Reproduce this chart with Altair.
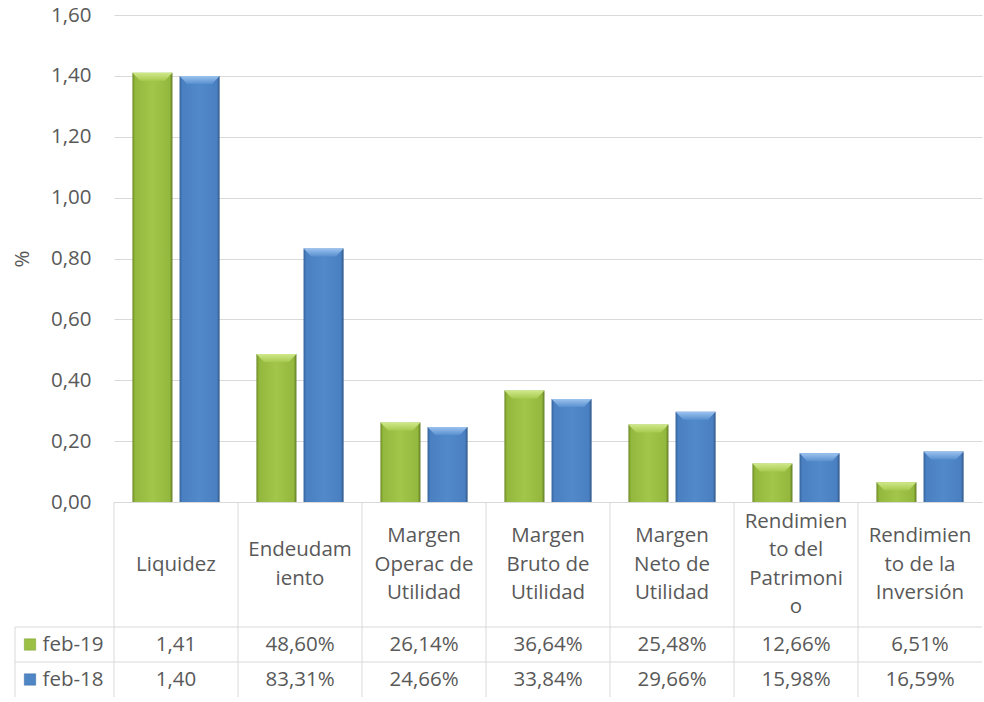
import altair as alt
import pandas as pd

# ---- data -------------------------------------------------------------
categories = [
    "Liquidez",
    "Endeudamiento",
    "Margen Operac de Utilidad",
    "Margen Bruto de Utilidad",
    "Margen Neto de Utilidad",
    "Rendimiento del Patrimonio",
    "Rendimiento de la Inversión",
]
# header text as wrapped inside the table cells
header_labels = [
    "Liquidez",
    "Endeudam\niento",
    "Margen\nOperac de\nUtilidad",
    "Margen\nBruto de\nUtilidad",
    "Margen\nNeto de\nUtilidad",
    "Rendimien\nto del\nPatrimoni\no",
    "Rendimien\nto de la\nInversión",
]
series = ["feb-19", "feb-18"]
feb19 = [1.41, 0.4860, 0.2614, 0.3664, 0.2548, 0.1266, 0.0651]
feb18 = [1.40, 0.8331, 0.2466, 0.3384, 0.2966, 0.1598, 0.1659]


def fmt(i, v):
    # first indicator is a plain ratio, the rest are percentages
    s = f"{v:.2f}" if i == 0 else f"{v * 100:.2f}%"
    return s.replace(".", ",")


rows = []
for name, vals in zip(series, [feb19, feb18]):
    for i, (c, v) in enumerate(zip(categories, vals)):
        rows.append({"category": c, "series": name, "value": v, "label": fmt(i, v)})
df = pd.DataFrame(rows)
header_df = pd.DataFrame({
    "category": categories,
    "label": header_labels,
    "nlines": [s.count("\n") + 1 for s in header_labels],
    "row": "h",
})
cat_df = pd.DataFrame({"category": categories})

# ---- style --------------------------------------------------------------
FONT = "Open Sans"
FS = 20.5
LH = 28.5
TXT = "#595959"
GRID = "#d9d9d9"
W = 868
BAR_W = 40

green_body = alt.Gradient(
    gradient="linear", x1=0, x2=1, y1=0, y2=0,
    stops=[
        alt.GradientStop(color="#6f8d2b", offset=0),
        alt.GradientStop(color="#93b83d", offset=0.07),
        alt.GradientStop(color="#a2c64a", offset=0.5),
        alt.GradientStop(color="#93b83d", offset=0.93),
        alt.GradientStop(color="#5f7a24", offset=1),
    ],
)
blue_body = alt.Gradient(
    gradient="linear", x1=0, x2=1, y1=0, y2=0,
    stops=[
        alt.GradientStop(color="#36639a", offset=0),
        alt.GradientStop(color="#4a80c2", offset=0.07),
        alt.GradientStop(color="#5189ca", offset=0.5),
        alt.GradientStop(color="#4a80c2", offset=0.93),
        alt.GradientStop(color="#2f5686", offset=1),
    ],
)
green_top = alt.Gradient(
    gradient="linear", x1=0, x2=0, y1=0, y2=1,
    stops=[
        alt.GradientStop(color="#cfe98a", offset=0),
        alt.GradientStop(color="#a8ca50", offset=1),
    ],
)
blue_top = alt.Gradient(
    gradient="linear", x1=0, x2=0, y1=0, y2=1,
    stops=[
        alt.GradientStop(color="#9cc3ef", offset=0),
        alt.GradientStop(color="#5990cf", offset=1),
    ],
)
# bevel facet on the top of each column: full width at the top edge, narrower below
BEVEL = "M-1,-0.2 L1,-0.2 L0.62,0.2 L-0.62,0.2 Z"

x_scale = alt.Scale(domain=categories, paddingInner=0, paddingOuter=0)
off_scale = alt.Scale(domain=series, paddingInner=0.15, paddingOuter=0.39)

# ---- columns ----------------------------------------------------------
x_bars = alt.X(
    "category:N", scale=x_scale,
    axis=alt.Axis(labels=False, ticks=False, grid=False, domain=True,
                  domainColor=GRID, domainWidth=1, title=None),
)
y_bars = alt.Y(
    "value:Q",
    scale=alt.Scale(domain=[0, 1.6], nice=False),
    axis=alt.Axis(
        values=[0, 0.2, 0.4, 0.6, 0.8, 1.0, 1.2, 1.4, 1.6],
        labelExpr="replace(format(datum.value, '.2f'), '.', ',')",
        grid=True, gridColor=GRID, gridWidth=1,
        domain=False, ticks=False, labelPadding=23,
        labelFont=FONT, labelFontSize=FS, labelColor=TXT,
        title="%", titleFont=FONT, titleFontSize=FS, titleColor=TXT,
        titleFontWeight="normal", titlePadding=18,
    ),
)
base = alt.Chart(df).encode(
    x=x_bars,
    xOffset=alt.XOffset("series:N", scale=off_scale),
    y=y_bars,
)
g_base = base.transform_filter(alt.datum.series == "feb-19")
b_base = base.transform_filter(alt.datum.series == "feb-18")
bars_g = g_base.mark_bar(fill=green_body)
bars_b = b_base.mark_bar(fill=blue_body)
bevel_g = g_base.mark_point(shape=BEVEL, size=BAR_W * BAR_W, filled=True, fill=green_top,
                            strokeWidth=0, yOffset=4, opacity=1)
bevel_b = b_base.mark_point(shape=BEVEL, size=BAR_W * BAR_W, filled=True, fill=blue_top,
                            strokeWidth=0, yOffset=4, opacity=1)

columns = alt.layer(bars_g, bars_b, bevel_g, bevel_b).properties(width=W, height=487)

# ---- table header ---------------------------------------------------------
x_cells = alt.X("category:N", scale=x_scale, axis=None)
col_lines = alt.Chart(cat_df).mark_rule(color=GRID, strokeWidth=1).encode(
    x=alt.X("category:N", scale=x_scale, axis=None, bandPosition=0)
)

header_layers = [col_lines]
for n in sorted(set(header_df["nlines"])):
    # each block of wrapped lines is centred vertically in the cell
    header_layers.append(
        alt.Chart(header_df)
        .transform_filter(alt.datum.nlines == int(n))
        .mark_text(lineBreak="\n", lineHeight=LH, font=FONT, fontSize=FS, color=TXT,
                   baseline="middle", dy=-(n - 1) * LH / 2)
        .encode(x=x_cells, y=alt.Y("row:N", axis=None), text="label:N")
    )
header = alt.layer(*header_layers).properties(width=W, height=125)

# ---- table value rows -------------------------------------------------------
ROW_H = 70
y_rows_scale = alt.Scale(domain=series, paddingInner=0, paddingOuter=0)
y_rows_axis = alt.Axis(labelAlign="left", labelPadding=72, ticks=False, domain=False,
                       grid=False, title=None, labelFont=FONT, labelFontSize=FS,
                       labelColor=TXT, labelBaseline="middle")

values_text = alt.Chart(df).mark_text(font=FONT, fontSize=FS, color=TXT, baseline="middle").encode(
    x=x_cells,
    y=alt.Y("series:N", scale=y_rows_scale, axis=y_rows_axis),
    text="label:N",
)
row_lines = alt.Chart(pd.DataFrame({"series": series})).mark_rule(color=GRID, strokeWidth=1).encode(
    y=alt.Y("series:N", scale=y_rows_scale, axis=y_rows_axis, bandPosition=0),
    x=alt.value(-99),
    x2=alt.value(W),
)
left_border = alt.Chart(pd.DataFrame({"series": series[:1]})).mark_rule(color=GRID, strokeWidth=1).encode(
    x=alt.value(-99), y=alt.value(0), y2=alt.value(ROW_H),
)
swatch_g = alt.Chart(pd.DataFrame({"series": ["feb-19"]})).mark_square(
    size=130, fill="#9cc044", stroke="#7d9e33", strokeWidth=0.5, opacity=1
).encode(y=alt.Y("series:N", scale=y_rows_scale, axis=y_rows_axis), x=alt.value(-84))
swatch_b = alt.Chart(pd.DataFrame({"series": ["feb-18"]})).mark_square(
    size=130, fill="#4f86c6", stroke="#3a6aa3", strokeWidth=0.5, opacity=1
).encode(y=alt.Y("series:N", scale=y_rows_scale, axis=y_rows_axis), x=alt.value(-84))

table_rows = alt.layer(col_lines, row_lines, left_border, values_text, swatch_g, swatch_b).properties(
    width=W, height=ROW_H)

chart = alt.vconcat(columns, header, table_rows, spacing=0, bounds="flush").properties(
    padding={"left": 12, "top": 5, "right": 1, "bottom": 0},
    background="white",
).configure_view(stroke=None)

chart.save("out.html", embed_options={"renderer": "svg", "actions": False})
